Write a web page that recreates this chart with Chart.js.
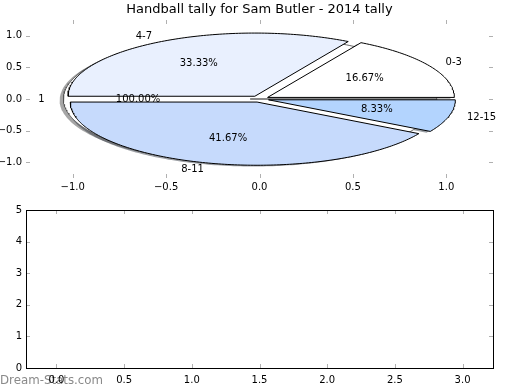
<!DOCTYPE html>
<html><head><meta charset="utf-8">
<script src="https://cdn.jsdelivr.net/npm/chart.js@4/dist/chart.umd.min.js"></script>
<style>
html,body{margin:0;padding:0;background:#fff;width:520px;height:390px;overflow:hidden}
#top{position:absolute;left:0;top:0}
#bot{position:absolute;left:0;top:200px}
</style></head><body>
<canvas id="top" width="520" height="200"></canvas>
<canvas id="bot" width="520" height="190"></canvas>
<script>
// ---- data ----
const chartTitle = 'Handball tally for Sam Butler - 2014 tally';
const sliceLabels = ['0-3', '4-7', '8-11', '12-15'];
const sliceValues = [2, 4, 5, 1];
const totalLabels = ['1'];
const totalValues = [1];
const pieXTicks = [-1.0, -0.5, 0.0, 0.5, 1.0];
const pieYTicks = [-1.0, -0.5, 0.0, 0.5, 1.0];
const barXTicks = [0.0, 0.5, 1.0, 1.5, 2.0, 2.5, 3.0];
const barYTicks = [0, 1, 2, 3, 4, 5];
const watermark = 'Dream-Stats.com';

// ---- style ----
const sliceColors = ['#ffffff', '#e9f0fe', '#c6dafc', '#b3d4fe'];
const totalColors = ['#ffffff'];
const EXPLODE = 0.05, LABEL_DIST = 1.1, PCT_DIST = 0.6, SHADOW_OFF = -0.02;
const FONT = "'DejaVu Sans', sans-serif";
const TICK_COLOR = '#b0b0b0';

function fmt1(v) { return v.toFixed(1).replace('-', '\u2212'); }
function shadowColor(hex) {
  const n = parseInt(hex.slice(1), 16);
  const r = ((n >> 16) & 255) * 0.3, g = ((n >> 8) & 255) * 0.3, b = (n & 255) * 0.3;
  return `rgba(${Math.round(r)},${Math.round(g)},${Math.round(b)},0.5)`;
}
function buildWedges(values, labels, colors) {
  const total = values.reduce((a, b) => a + b, 0);
  let start = 0;
  return values.map((v, i) => {
    const span = 360 * v / total;
    const a1 = start; start += span;
    const mid = (a1 + span / 2) * Math.PI / 180;
    const ox = EXPLODE * Math.cos(mid), oy = EXPLODE * Math.sin(mid);
    const pts = [{x: ox, y: oy}];
    const n = Math.max(2, Math.ceil(span));
    for (let k = 0; k <= n; k++) {
      const t = (a1 + span * k / n) * Math.PI / 180;
      pts.push({x: ox + Math.cos(t), y: oy + Math.sin(t)});
    }
    pts.push({x: ox, y: oy});
    return {label: labels[i], pct: 100 * v / total, color: colors[i], pts, mid, ox, oy};
  });
}
const totalWedges = buildWedges(totalValues, totalLabels, totalColors);
const sliceWedges = buildWedges(sliceValues, sliceLabels, sliceColors);
const allWedges = totalWedges.concat(sliceWedges);

const datasets = [];
allWedges.forEach((w, i) => {
  datasets.push({
    type: 'line', data: w.pts.map(p => ({x: p.x + SHADOW_OFF, y: p.y + SHADOW_OFF})),
    showLine: true, fill: 'shape', backgroundColor: shadowColor(w.color),
    borderWidth: 0, borderColor: 'rgba(0,0,0,0)', pointRadius: 0, tension: 0, order: 200 - i
  });
});
allWedges.forEach((w, i) => {
  datasets.push({
    type: 'line', data: w.pts, showLine: true, fill: 'shape', backgroundColor: w.color,
    borderColor: i === 0 ? '#555' : '#000', borderWidth: i === 0 ? 0.9 : 1, pointRadius: 0, tension: 0, order: 100 - i
  });
});

function inwardTicks(chart, xs, ys) {
  const {ctx, chartArea: a, scales} = chart;
  ctx.save();
  ctx.strokeStyle = TICK_COLOR; ctx.lineWidth = 1;
  ctx.beginPath();
  xs.forEach(v => {
    const px = Math.round(scales.x.getPixelForValue(v)) + 0.5;
    ctx.moveTo(px, a.top); ctx.lineTo(px, a.top + 4);
    ctx.moveTo(px, a.bottom); ctx.lineTo(px, a.bottom - 4);
  });
  ys.forEach(v => {
    const py = Math.round(scales.y.getPixelForValue(v)) + 0.5;
    ctx.moveTo(a.left, py); ctx.lineTo(a.left + 4, py);
    ctx.moveTo(a.right, py); ctx.lineTo(a.right - 4, py);
  });
  ctx.stroke();
  ctx.restore();
}

const piePlugin = {
  id: 'pieText',
  afterDatasetsDraw(chart) {
    const {ctx, scales: {x, y}, chartArea: a} = chart;
    ctx.save();
    ctx.fillStyle = '#000';
    ctx.font = '10px ' + FONT;
    ctx.textBaseline = 'middle';
    allWedges.forEach(w => {
      const lx = w.ox + LABEL_DIST * Math.cos(w.mid), ly = w.oy + LABEL_DIST * Math.sin(w.mid);
      ctx.textAlign = lx > 0 ? 'left' : 'right';
      ctx.fillText(w.label, x.getPixelForValue(lx), y.getPixelForValue(ly));
      const px = w.ox + PCT_DIST * Math.cos(w.mid), py = w.oy + PCT_DIST * Math.sin(w.mid);
      ctx.textAlign = 'center';
      ctx.fillText(w.pct.toFixed(2) + '%', x.getPixelForValue(px), y.getPixelForValue(py));
    });
    ctx.font = '13px ' + FONT;
    ctx.textAlign = 'center';
    ctx.fillText(chartTitle, (a.left + a.right) / 2, 10);
    ctx.restore();
    inwardTicks(chart, pieXTicks, pieYTicks);
  }
};

new Chart(document.getElementById('top'), {
  type: 'scatter',
  data: {datasets},
  plugins: [piePlugin],
  options: {
    responsive: false, animation: false, events: [],
    layout: {padding: {left: 0, right: 27, top: 20, bottom: 0}},
    plugins: {legend: {display: false}, tooltip: {enabled: false}, title: {display: false}},
    scales: {
      x: {
        type: 'linear', min: -1.25, max: 1.25,
        afterBuildTicks: s => { s.ticks = pieXTicks.map(v => ({value: v})); },
        afterFit: s => { s.height = 22; },
        ticks: {font: {family: FONT, size: 10}, color: '#000', padding: 3, maxRotation: 0, callback: v => fmt1(v)},
        grid: {display: false, drawTicks: false}, border: {display: false}
      },
      y: {
        type: 'linear', min: -1.25, max: 1.25,
        afterBuildTicks: s => { s.ticks = pieYTicks.map(v => ({value: v})); },
        afterFit: s => { s.width = 26; },
        ticks: {font: {family: FONT, size: 10}, color: '#000', padding: 4, callback: v => fmt1(v)},
        grid: {display: false, drawTicks: false}, border: {display: false}
      }
    }
  }
});

const barPlugin = {
  id: 'barDecor',
  beforeDraw(chart) {
    const {ctx} = chart;
    ctx.save();
    ctx.fillStyle = '#8a8a8a';
    ctx.font = '500 11.8px ' + FONT;
    ctx.textAlign = 'left'; ctx.textBaseline = 'middle';
    ctx.fillText(watermark, 0, 181);
    ctx.restore();
  },
  afterDraw(chart) {
    const {ctx, chartArea: a} = chart;
    inwardTicks(chart, barXTicks, barYTicks);
    ctx.save();
    ctx.strokeStyle = '#000'; ctx.lineWidth = 1;
    ctx.strokeRect(Math.round(a.left) + 0.5, Math.round(a.top) + 0.5, Math.round(a.right - a.left), Math.round(a.bottom - a.top));
    ctx.restore();
  }
};

new Chart(document.getElementById('bot'), {
  type: 'scatter',
  data: {datasets: [{data: []}]},
  plugins: [barPlugin],
  options: {
    responsive: false, animation: false, events: [],
    layout: {padding: {left: 0, right: 27, top: 10, bottom: 0}},
    plugins: {legend: {display: false}, tooltip: {enabled: false}},
    scales: {
      x: {
        type: 'linear', min: -0.225, max: 3.225,
        afterBuildTicks: s => { s.ticks = barXTicks.map(v => ({value: v})); },
        afterFit: s => { s.height = 22; },
        ticks: {font: {family: FONT, size: 10}, color: '#000', padding: 6, maxRotation: 0, callback: v => fmt1(v)},
        grid: {display: false, drawTicks: false}, border: {display: false}
      },
      y: {
        type: 'linear', min: 0, max: 5,
        afterBuildTicks: s => { s.ticks = barYTicks.map(v => ({value: v})); },
        afterFit: s => { s.width = 26; },
        ticks: {font: {family: FONT, size: 10}, color: '#000', padding: 4, callback: v => String(v)},
        grid: {display: false, drawTicks: false}, border: {display: false}
      }
    }
  }
});
</script>
</body></html>
